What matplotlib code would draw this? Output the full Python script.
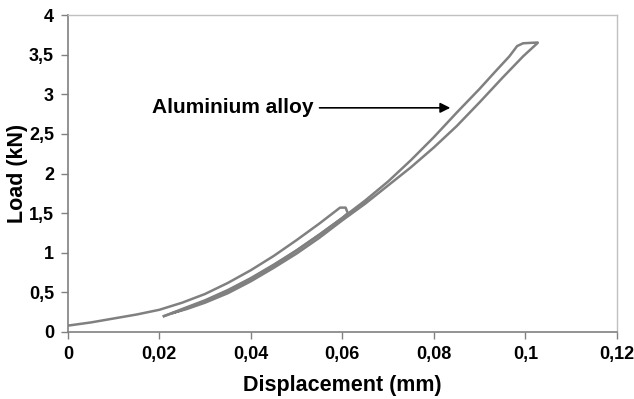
import matplotlib
matplotlib.use("Agg")
import matplotlib.pyplot as plt

plt.rcParams["font.family"] = ["Liberation Sans", "DejaVu Sans"]
plt.rcParams["font.weight"] = "bold"

# first loading / unloading cycle
load1_x = [0, 0.005, 0.01, 0.015, 0.02, 0.025, 0.03, 0.035, 0.04, 0.045, 0.05, 0.055, 0.0595, 0.0607, 0.0612]
load1_y = [0.08, 0.12, 0.17, 0.22, 0.28, 0.37, 0.48, 0.62, 0.78, 0.96, 1.16, 1.37, 1.57, 1.57, 1.50]
unload1_x = [0.0612, 0.06, 0.055, 0.05, 0.045, 0.04, 0.035, 0.03, 0.025, 0.021]
unload1_y = [1.50, 1.44, 1.23, 1.03, 0.85, 0.68, 0.53, 0.40, 0.29, 0.20]

# second loading / unloading cycle
load2_x = [0.021, 0.025, 0.03, 0.035, 0.04, 0.045, 0.05, 0.055, 0.06, 0.065, 0.07, 0.075, 0.08, 0.085, 0.09, 0.0933, 0.0965, 0.0982, 0.0995, 0.1027]
load2_y = [0.20, 0.28, 0.39, 0.52, 0.67, 0.84, 1.03, 1.23, 1.44, 1.66, 1.90, 2.17, 2.46, 2.77, 3.07, 3.28, 3.48, 3.61, 3.645, 3.655]
unload2_x = [0.1027, 0.0995, 0.095, 0.09, 0.085, 0.08, 0.075, 0.07, 0.065, 0.06, 0.055, 0.05, 0.045, 0.04, 0.035, 0.03, 0.026, 0.023]
unload2_y = [3.65, 3.48, 3.21, 2.90, 2.60, 2.33, 2.08, 1.85, 1.62, 1.41, 1.19, 0.99, 0.81, 0.64, 0.49, 0.37, 0.29, 0.24]

xticks = [0, 0.02, 0.04, 0.06, 0.08, 0.1, 0.12]
xlabels = ["0", "0,02", "0,04", "0,06", "0,08", "0,1", "0,12"]
yticks = [0, 0.5, 1, 1.5, 2, 2.5, 3, 3.5, 4]
ylabels = ["0", "0,5", "1", "1,5", "2", "2,5", "3", "3,5", "4"]

fig = plt.figure(figsize=(6.34, 3.99), dpi=100)
ax = fig.add_axes([0.107, 0.168, 0.866, 0.794])

col = "#808080"
ax.plot(load1_x + unload1_x, load1_y + unload1_y, color=col, lw=1.8)
ax.plot(load2_x + unload2_x, load2_y + unload2_y, color=col, lw=1.8)

ax.set_xlim(0, 0.12)
ax.set_ylim(0, 4)
ax.set_xticks(xticks)
ax.set_xticklabels(xlabels)
ax.set_yticks(yticks)
ax.set_yticklabels(ylabels)
ax.tick_params(labelsize=13, length=5, width=1, color="#808080", pad=5)
for s in ["left", "bottom"]:
    ax.spines[s].set_color("#808080")
    ax.spines[s].set_linewidth(1.2)
for s in ["top", "right"]:
    ax.spines[s].set_color("#c0c0c0")
    ax.spines[s].set_linewidth(1.0)

ax.set_xlabel("Displacement (mm)", fontsize=15.5, fontweight="bold")
ax.set_ylabel("Load (kN)", fontsize=15.5, fontweight="bold")
ax.yaxis.set_label_coords(-0.072, 0.5)
ax.xaxis.set_label_coords(0.5, -0.135)

ax.annotate("Aluminium alloy", xy=(0.0842, 2.83), xytext=(0.0185, 2.83),
            fontsize=15, fontweight="bold", va="center",
            arrowprops=dict(arrowstyle="-|>", color="black", lw=1.2, mutation_scale=15))

fig.savefig("out.png", dpi=100)
